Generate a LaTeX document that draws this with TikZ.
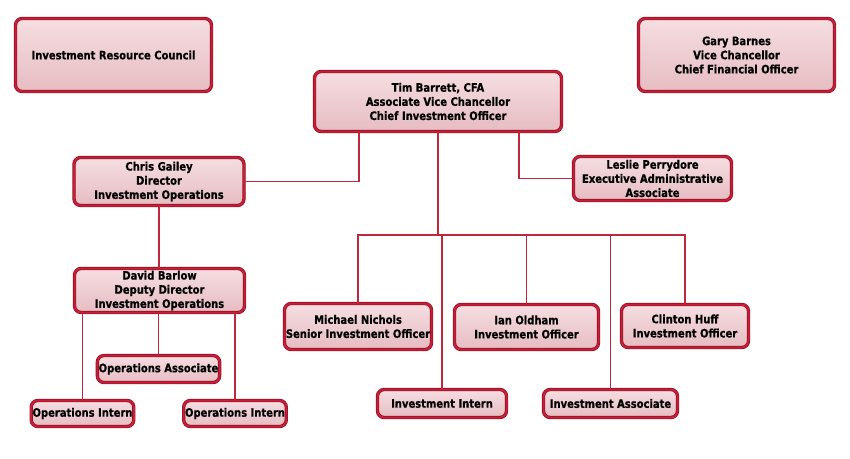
\documentclass[tikz,border=0pt]{standalone}
\usepackage{fontspec}
\usetikzlibrary{positioning,calc}
\newfontfamily\orgfont[FakeStretch=0.86,FakeBold=0.6]{DejaVu Sans}
\definecolor{boxred}{RGB}{200,30,55}
\definecolor{boxdark}{RGB}{140,15,35}
\definecolor{pinktop}{RGB}{245,222,225}
\definecolor{pinkbot}{RGB}{230,188,194}
\definecolor{linered}{RGB}{190,40,60}
\tikzset{
  orgbox/.style={draw=boxdark, line width=0.5pt, double=boxred, double distance=1.5pt,
    rounded corners=5pt, top color=pinktop, bottom color=pinkbot, align=center,
    inner sep=1pt, font=\orgfont\bfseries\fontsize{8.7}{10.6}\selectfont},
  boxsize/.style 2 args={minimum width=#1*0.75pt, minimum height=#2*0.75pt},
  orgline/.style={draw=linered, line width=1pt}
}
\begin{document}
\begin{tikzpicture}[x=0.75pt,y=0.75pt,yscale=-1,xscale=1]
\useasboundingbox (0,0) rectangle (850,458);

%Top row
\node[orgbox, boxsize={196}{73}] (irc) at (113.5,55) {Investment Resource Council};
\node[orgbox, boxsize={196}{73}] (barnes) at (736.5,55) {Gary Barnes\\Vice Chancellor\\Chief Financial Officer};
\node[orgbox, boxsize={247}{60}] (barrett) at (438,101.5) {Tim Barrett, CFA\\Associate Vice Chancellor\\Chief Investment Officer};

%Second row
\node[orgbox, boxsize={170}{48}] (gailey) at (159,181.5) {Chris Gailey\\Director\\Investment Operations};
\node[orgbox, boxsize={158}{44}] (perrydore) at (652.5,178.5) {Leslie Perrydore\\Executive Administrative\\Associate};

%Operations branch
\node[orgbox, boxsize={170}{44}] (barlow) at (159.5,290.5) {David Barlow\\Deputy Director\\Investment Operations};
\node[orgbox, boxsize={122}{27}] (opsassoc) at (158.5,369) {Operations Associate};
\node[orgbox, boxsize={100}{26}] (opsintA) at (82.5,413.5) {Operations Intern};
\node[orgbox, boxsize={101}{26}] (opsintB) at (235,413.5) {Operations Intern};

%Investment branch
\node[orgbox, boxsize={147}{46}] (nichols) at (358,326.5) {Michael Nichols\\Senior Investment Officer};
\node[orgbox, boxsize={144}{45}] (oldham) at (526.5,327) {Ian Oldham\\Investment Officer};
\node[orgbox, boxsize={127}{43}] (huff) at (685,326) {Clinton Huff\\Investment Officer};
\node[orgbox, boxsize={129}{28}] (invintern) at (442,403.5) {Investment Intern};
\node[orgbox, boxsize={134}{28}] (invassoc) at (610.5,403.5) {Investment Associate};

\coordinate (bus) at (0,235);

%Connectors
\path[orgline] ($(barrett.south)+(-79,0)$) |- (gailey.east);
\path[orgline] ($(barrett.south)+(81,0)$) |- (perrydore.west);
\path[orgline] (barrett.south) -- (barrett.south |- bus);
\path[orgline] (gailey.south) -- (gailey.south |- barlow.north);
\foreach \n in {opsintA,opsassoc,opsintB}
  \path[orgline] (barlow.south -| \n.north) -- (\n.north);
\path[orgline] (nichols.north) |- (bus -| huff.north) -- (huff.north);
\foreach \n in {oldham,invintern,invassoc}
  \path[orgline] (bus -| \n.north) -- (\n.north);
\end{tikzpicture}
\end{document}
